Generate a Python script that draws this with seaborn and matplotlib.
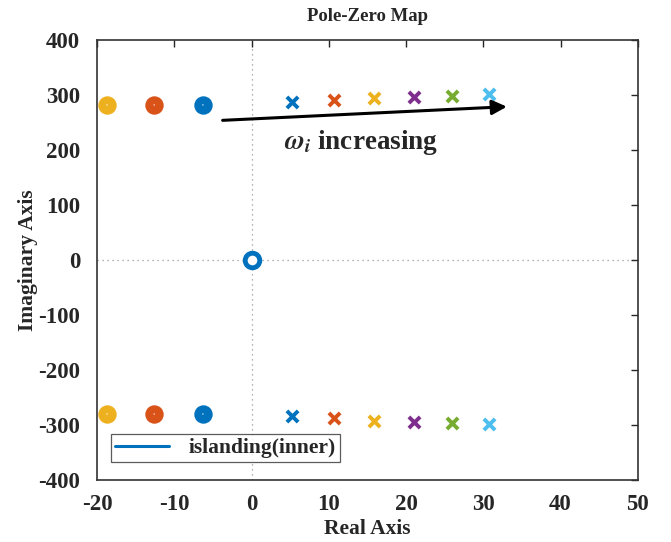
import matplotlib
matplotlib.use("Agg")
import matplotlib.pyplot as plt
import seaborn as sns
import pandas as pd

# ---- data ----
zero_x = [-18.7, -12.6, -6.3]
zero_y_upper = [282, 282, 282]
zero_y_lower = [-280, -280, -280]
zero_colors = ["#EDB120", "#D95319", "#0072BD"]
origin_x = [0.0]
origin_y = [0.0]
pole_x = [5.3, 10.7, 15.9, 21.0, 26.0, 30.7]
pole_y_upper = [287, 291, 294, 296, 299, 302]
pole_y_lower = [-284, -288, -292, -295, -296, -298]
pole_colors = ["#0072BD", "#D95319", "#EDB120", "#7E2F8E", "#77AC30", "#4DBEEE"]
legend_label = "islanding(inner)"
x_ticks = [-20, -10, 0, 10, 20, 30, 40, 50]
y_ticks = [-400, -300, -200, -100, 0, 100, 200, 300, 400]

sns.set_style("white")
plt.rcParams["font.family"] = ["Liberation Serif", "DejaVu Serif"]
plt.rcParams["font.weight"] = "bold"
plt.rcParams["mathtext.fontset"] = "stix"
plt.rcParams["axes.unicode_minus"] = False

fig = plt.figure(figsize=(6.71, 5.42), dpi=100)
ax = fig.add_axes([0.1446, 0.1144, 0.806, 0.8118])

ax.axvline(0, color="#999999", ls=(0, (1, 3)), lw=0.9, zorder=0)
ax.axhline(0, color="#999999", ls=(0, (1, 3)), lw=0.9, zorder=0)

# zeros (overlapping circles drawn as discs)
for i, col in enumerate(zero_colors):
    zdf = pd.DataFrame({"x": [zero_x[i]] * 2, "y": [zero_y_upper[i], zero_y_lower[i]]})
    sns.scatterplot(data=zdf, x="x", y="y", marker="o", s=150, color=col,
                    edgecolor=col, linewidth=1, legend=False, ax=ax, zorder=3)
    sns.scatterplot(data=zdf, x="x", y="y", marker=".", s=6, color="white",
                    edgecolor="none", alpha=0.6, legend=False, ax=ax, zorder=4)

odf = pd.DataFrame({"x": origin_x, "y": origin_y})
sns.scatterplot(data=odf, x="x", y="y", marker="o", s=110, color="white",
                edgecolor="#0072BD", linewidth=3.5, legend=False, ax=ax, zorder=3)

# poles
for i, col in enumerate(pole_colors):
    pdf = pd.DataFrame({"x": [pole_x[i]] * 2, "y": [pole_y_upper[i], pole_y_lower[i]]})
    sns.scatterplot(data=pdf, x="x", y="y", marker="x", s=65, color=col,
                    linewidth=2.8, legend=False, ax=ax, zorder=3)

# legend proxy
ax.plot([], [], color="#0072BD", lw=2.2, label=legend_label)
leg = ax.legend(loc="lower left", bbox_to_anchor=(0.026, 0.04), fancybox=False,
                prop={"weight": "bold", "size": 15.5}, handlelength=2.5,
                borderpad=0.2, handletextpad=0.9, borderaxespad=0.0)
leg.get_frame().set_edgecolor("#333333")
leg.get_frame().set_linewidth(0.9)

ax.annotate("", xy=(33.4, 279), xytext=(-4.1, 253.7),
            arrowprops=dict(arrowstyle="-|>", color="black", lw=2.2,
                            mutation_scale=22))
ax.text(14.2, 213, r"$\omega_i$ increasing", ha="center", va="center",
        fontsize=19.5, fontweight="bold")

ax.set_xlim(-20, 50)
ax.set_ylim(-400, 400)
ax.set_xticks(x_ticks)
ax.set_yticks(y_ticks)
ax.tick_params(direction="in", top=True, right=True, labelsize=16.5,
               length=5, width=1)
ax.tick_params(axis="y", pad=12)
ax.tick_params(axis="x", pad=10)
for lab in ax.get_xticklabels() + ax.get_yticklabels():
    lab.set_fontweight("bold")
for s in ax.spines.values():
    s.set_visible(True)
    s.set_color("#333333")
    s.set_linewidth(1.2)
ax.set_xlabel("Real Axis", fontsize=15.5, fontweight="bold", labelpad=3)
ax.set_ylabel("Imaginary Axis", fontsize=15.5, fontweight="bold", labelpad=0)
ax.set_title("Pole-Zero Map", fontsize=13.5, fontweight="bold", pad=14)

fig.savefig("out.png", dpi=100)
